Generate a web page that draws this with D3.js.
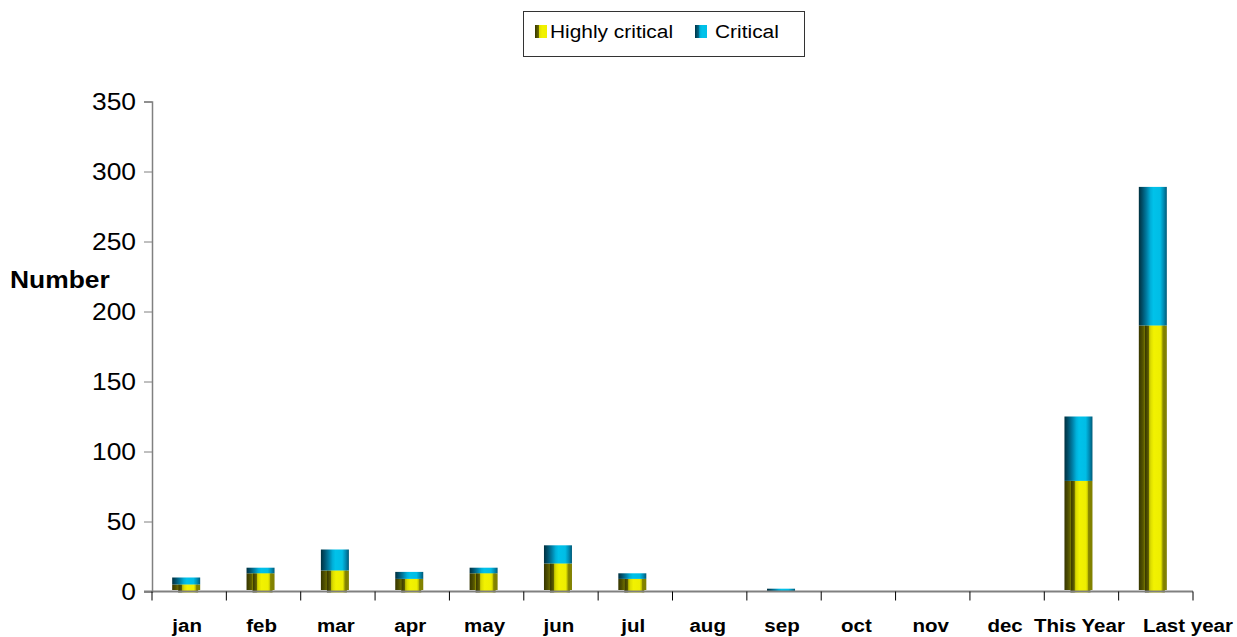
<!DOCTYPE html>
<html>
<head>
<meta charset="utf-8">
<script src="https://cdn.jsdelivr.net/npm/d3@7"></script>
<style>
  html, body { margin: 0; padding: 0; background: #fff; }
  svg { display: block; font-family: "Liberation Sans", Arial, sans-serif; }
</style>
</head>
<body>
<svg id="chart" width="1237" height="637"></svg>
<script>
// Monthly counts split by severity, plus yearly totals
const categories = ["jan", "feb", "mar", "apr", "may", "jun", "jul", "aug", "sep", "oct", "nov", "dec", "This Year", "Last year"];
const highlyCritical = [5, 13, 15, 9, 13, 20, 9, 0, 0, 0, 0, 0, 79, 190];
const critical       = [5, 4, 15, 5, 4, 13, 4, 0, 2, 0, 0, 0, 46, 99];
const seriesNames = ["Highly critical", "Critical"];
const yTicks = [0, 50, 100, 150, 200, 250, 300, 350];

const svg = d3.select("#chart");
const margin = { left: 152, right: 44, top: 101.5, bottom: 45.5 };
const W = 1237, H = 637;
const STRETCH = 1.1; // labels are set slightly wide

const x = d3.scaleBand().domain(categories).range([margin.left, W - margin.right]).padding(0);
const y = d3.scaleLinear().domain([0, 350]).range([H - margin.bottom, margin.top]);

// Places a horizontally widened text label
function label(parent, px, py, str, opts) {
  const g = parent.append("g").attr("transform", `translate(${px},${py}) scale(${opts.sx || STRETCH},1)`);
  return g.append("text")
    .attr("text-anchor", opts.anchor || "start")
    .attr("dominant-baseline", opts.baseline || "auto")
    .attr("font-size", opts.size)
    .attr("font-weight", opts.bold ? "bold" : "normal")
    .attr("fill", "#000")
    .text(str);
}

// Cylinder-like horizontal shading for each series
const defs = svg.append("defs");
function gradient(id, stops) {
  const g = defs.append("linearGradient").attr("id", id)
    .attr("x1", "0%").attr("x2", "100%").attr("y1", "0%").attr("y2", "0%");
  stops.forEach(([o, c]) => g.append("stop").attr("offset", o).attr("stop-color", c));
}
gradient("gYellow", [
  [0, "#353500"], [0.12, "#4e4e00"], [0.2, "#666600"], [0.21, "#b8b800"],
  [0.3, "#dede00"], [0.45, "#f2f200"], [0.78, "#eeee00"], [0.86, "#c4c400"],
  [0.9, "#8a8a00"], [1, "#7c7c00"]
]);
gradient("gBlue", [
  [0, "#00303f"], [0.12, "#004e68"], [0.28, "#007ea4"], [0.42, "#00b0da"],
  [0.52, "#00c2ea"], [0.76, "#00bde6"], [0.88, "#008eb6"], [1, "#005a78"]
]);
gradient("gYellowL", [[0, "#353500"], [0.3, "#6a6a00"], [0.31, "#dede00"], [0.6, "#f2f200"], [1, "#f0f000"]]);
gradient("gBlueL", [[0, "#003446"], [0.3, "#006888"], [0.4, "#00b0d8"], [0.6, "#00c2ea"], [1, "#00c0e8"]]);

const barW = 28;
const barX = c => x(c) + x.bandwidth() / 2 - barW / 2 - 3;

const rows = categories.map((c, i) => ({ cat: c, hc: highlyCritical[i], cr: critical[i] }));

// Highly critical (bottom segment)
const bars = svg.append("g");
rows.filter(d => d.hc > 0).forEach(d => {
  bars.append("rect")
    .attr("x", barX(d.cat)).attr("width", barW)
    .attr("y", y(d.hc)).attr("height", y(0) - y(d.hc) - 1.5)
    .attr("fill", "url(#gYellow)");
  // front face reaches the floor
  bars.append("rect")
    .attr("x", barX(d.cat) + 6).attr("width", barW - 8)
    .attr("y", y(d.hc)).attr("height", y(0) - y(d.hc) + 1)
    .attr("fill", "url(#gYellow)");
});
// Critical (stacked on top)
rows.filter(d => d.cr > 0).forEach(d => {
  bars.append("rect")
    .attr("x", barX(d.cat)).attr("width", barW)
    .attr("y", y(d.hc + d.cr)).attr("height", y(d.hc) - y(d.hc + d.cr))
    .attr("fill", "url(#gBlue)");
});

// Y axis
const yAxis = svg.append("g").attr("transform", `translate(${margin.left},0)`)
  .call(d3.axisLeft(y).tickValues(yTicks).tickSize(8).tickFormat(() => ""));
yAxis.select(".domain").attr("stroke", "#808080").attr("stroke-width", 1.5);
yAxis.selectAll(".tick line").attr("stroke", "#808080");
yTicks.forEach(v => {
  label(svg, margin.left - 16, y(v), d3.format("d")(v), { size: 24, anchor: "end", baseline: "central" });
});

// X axis with category boundary ticks
const xAxisG = svg.append("g").attr("transform", `translate(0,${y(0)})`);
xAxisG.append("line").attr("x1", margin.left - 8).attr("x2", W - margin.right)
  .attr("y1", 0).attr("y2", 0).attr("stroke", "#808080").attr("stroke-width", 2);
const bounds = categories.map(c => x(c)).concat([x(categories[categories.length - 1]) + x.bandwidth()]);
xAxisG.selectAll("line.b").data(bounds).join("line").attr("class", "b")
  .attr("x1", d => d).attr("x2", d => d).attr("y1", 0).attr("y2", 9)
  .attr("stroke", "#000").attr("stroke-width", 1);
categories.forEach((c, i) => {
  const last = i === categories.length - 1;
  const px = last ? W - 4 : x(c) + x.bandwidth() / 2 - 2;
  label(svg, px, y(0) + 40.5, c, { size: 19, bold: true, anchor: last ? "end" : "middle", sx: 1.08 });
});

// Y axis title
label(svg, 10, 288, "Number", { size: 24, bold: true });

// Legend
const lg = svg.append("g");
lg.append("rect").attr("x", 523.5).attr("y", 11.5).attr("width", 281).attr("height", 45)
  .attr("fill", "#fff").attr("stroke", "#333").attr("stroke-width", 1);
const legendItems = [
  { name: seriesNames[0], fill: "url(#gYellowL)", sx: 535, tx: 550 },
  { name: seriesNames[1], fill: "url(#gBlueL)", sx: 695, tx: 715 }
];
legendItems.forEach(it => {
  lg.append("rect").attr("x", it.sx).attr("y", 25).attr("width", 12).attr("height", 13).attr("fill", it.fill);
  label(lg, it.tx, 37.5, it.name, { size: 19 });
});
</script>
</body>
</html>
